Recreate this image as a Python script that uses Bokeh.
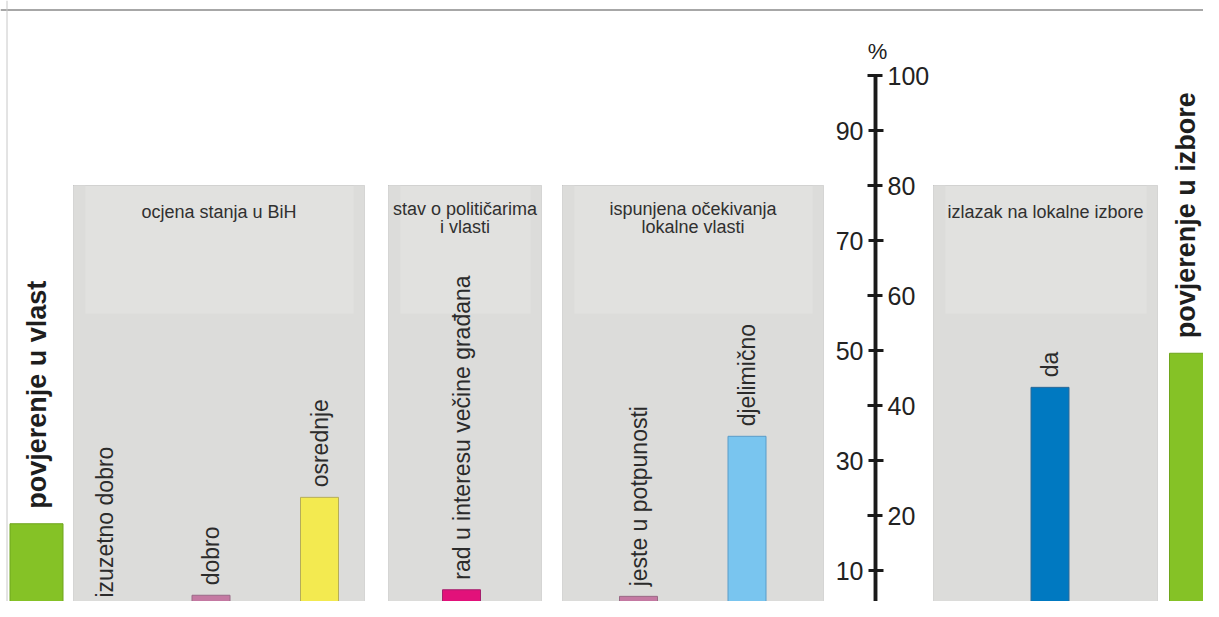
import math
from bokeh.plotting import figure
from bokeh.models import Range1d, LinearAxis, FixedTicker, Span, ColumnDataSource
from bokeh.core.properties import value
from bokeh.embed import file_html
from bokeh.resources import INLINE

# ---------------- data ----------------
side_labels = ["povjerenje u vlast", "povjerenje u izbore"]
side_values = [18.5, 49.5]

panel_titles = ["ocjena stanja u BiH",
                "stav o političarima\ni vlasti",
                "ispunjena očekivanja\nlokalne vlasti",
                "izlazak na lokalne izbore"]
panel_top_value = 80

bar_labels = ["izuzetno dobro", "dobro", "osrednje",
              "rad u interesu večine građana",
              "jeste u potpunosti", "djelimično", "da"]
bar_values = [1.8, 5.5, 23.3, 6.5, 5.3, 34.4, 43.3]

left_ticks = [10, 30, 50, 70, 90]
right_ticks = [20, 40, 60, 80, 100]
axis_unit = "%"

# ---------------- layout / style ----------------
W, H = 1203, 601
ZERO_Y = 625.0      # screen y of value 0 (below the visible area)
PX_PER_UNIT = 5.5

def val_at(sy):
    return (ZERO_Y - sy) / PX_PER_UNIT

FONT = "Liberation Sans"

bar_x = [104, 210.5, 319, 461, 638, 746.5, 1049.5]
bar_w = 38
bar_fill = ["#d9d9d9", "#c479a2", "#f3ea50", "#e2117a", "#c479a2", "#79c5ef", "#0079c1"]
bar_line = ["#8c8c8c", "#9a6a86", "#b5ad5a", "#a5206c", "#9a6a86", "#5b9cc8", "#2c6a98"]

side_x = [36, 1195.5]
side_w = 53
side_label_dx = [0, -10]
green = "#85c226"

panel_left = [73, 388, 562, 933]
panel_right = [364, 541, 823, 1157]
axis_x = 875

p = figure(width=W, height=H, output_backend="svg", toolbar_location=None,
           x_range=Range1d(0, W),
           y_range=Range1d(val_at(H), val_at(0)),
           x_axis_type=None, y_axis_type=None, min_border=0)
p.grid.visible = False
p.outline_line_color = None
p.background_fill_color = "white"
p.border_fill_color = "white"

# frame lines (top and left)
p.add_layout(Span(location=val_at(9.5), dimension="width", line_color="#8a8a8a", line_width=1.5))
p.add_layout(Span(location=6.5, dimension="height", line_color="#c8c8c8", line_width=1))

# panels
bottom = val_at(H) - 5
p.quad(left=panel_left, right=panel_right, top=[panel_top_value] * 4, bottom=[bottom] * 4,
       fill_color="#dcdcda", line_color=None)
p.quad(left=[l + 12 for l in panel_left], right=[r - 11 for r in panel_right],
       top=[panel_top_value] * 4, bottom=[val_at(313)] * 4,
       fill_color="#e1e1df", line_color=None)
p.quad(left=panel_left, right=panel_right, top=[panel_top_value] * 4, bottom=[bottom] * 4,
       fill_color=None, line_color="#bdbdbd", line_dash="1 1", line_width=1)

# panel titles
tx, ty, tt, toff = [], [], [], []
for i, t in enumerate(panel_titles):
    lines = t.split("\n")
    for j, ln in enumerate(lines):
        tx.append((panel_left[i] + panel_right[i]) / 2)
        ty.append(val_at(208))
        tt.append(ln)
        toff.append(j * 18.5 + (3 if len(lines) == 1 else 0))
p.text(x=tx, y=ty, text=tt, y_offset=toff, text_align="center", text_baseline="middle",
       text_font=value(FONT), text_font_size="18px", text_color="#303030")

# bars
# keep every label's start inside the visible area
label_yoff = []
for v in bar_values:
    start = (ZERO_Y - v * PX_PER_UNIT) - 10
    label_yoff.append(-10 - max(0.0, start - (H - 4)))

src = ColumnDataSource(dict(x=bar_x, top=bar_values, label=bar_labels,
                            fill=bar_fill, line=bar_line, yoff=label_yoff))
p.vbar(x="x", top="top", bottom=0, width=bar_w, source=src,
       fill_color="fill", line_color="line", line_width=1)
p.text(x="x", y="top", text="label", source=src, angle=math.pi / 2,
       text_align="left", text_baseline="middle", y_offset="yoff",
       text_font=value(FONT), text_font_size="23px", text_color="#2b2b2b")

# side (green) bars
ssrc = ColumnDataSource(dict(x=side_x, top=side_values, label=side_labels, dx=side_label_dx))
p.vbar(x="x", top="top", bottom=0, width=side_w, source=ssrc,
       fill_color=green, line_color="#6fa51c", line_width=1)
p.text(x="x", y="top", text="label", source=ssrc, angle=math.pi / 2,
       text_align="left", text_baseline="middle", y_offset=-15, x_offset="dx",
       text_font=value(FONT), text_font_size="27px", text_font_style="bold",
       text_color="#1e1e1e")

# central percentage axis (two axes at a fixed location)
def make_axis(ticks):
    ax = LinearAxis(fixed_location=axis_x, ticker=FixedTicker(ticks=ticks),
                    bounds=(0, 100))
    ax.axis_line_width = 3.5
    ax.axis_line_color = "#1a1a1a"
    ax.major_tick_line_width = 3
    ax.major_tick_line_color = "#1a1a1a"
    ax.major_tick_in = 8
    ax.major_tick_out = 7
    ax.minor_tick_line_color = None
    ax.major_label_standoff = 5
    ax.major_label_text_font = FONT
    ax.major_label_text_font_size = "25px"
    ax.major_label_text_color = "#222222"
    return ax

p.add_layout(make_axis(left_ticks), "left")
p.add_layout(make_axis(right_ticks), "right")

p.text(x=[axis_x + 2], y=[val_at(51)], text=[axis_unit], text_align="center",
       text_baseline="middle", text_font=value(FONT), text_font_size="22px",
       text_color="#222222")

open("out.html", "w").write(file_html(p, INLINE))
